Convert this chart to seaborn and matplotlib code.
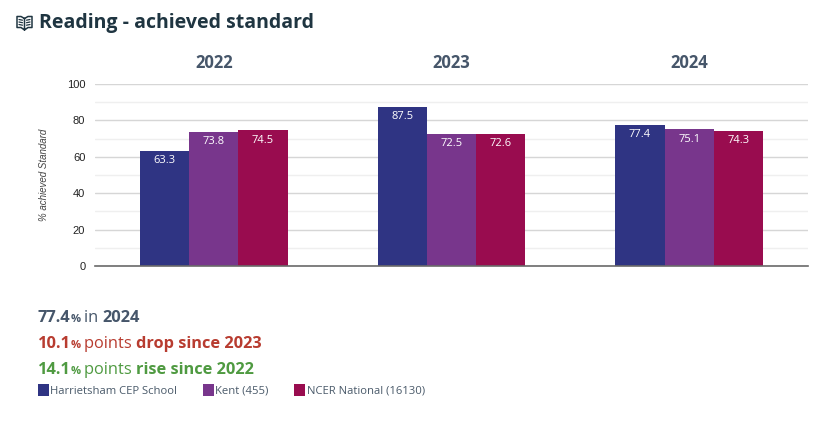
import matplotlib
matplotlib.use("Agg")
import matplotlib.pyplot as plt
import pandas as pd
import seaborn as sns

years = ["2022", "2023", "2024"]
school = [63.3, 87.5, 77.4]
kent = [73.8, 72.5, 75.1]
national = [74.5, 72.6, 74.3]
series_names = ["Harrietsham CEP School", "Kent (455)", "NCER National (16130)"]
colors = ["#2f3483", "#78368c", "#990c4f"]

W, H = 818, 422

sns.set_theme(style="white")
plt.rcParams["font.family"] = ["Open Sans", "DejaVu Sans"]

df = pd.DataFrame({
    "year": years * 3,
    "value": school + kent + national,
    "series": [s for s in series_names for _ in years],
})

fig = plt.figure(figsize=(W / 100, H / 100), dpi=100)
ax = fig.add_axes([95 / W, (H - 266) / H, 713 / W, 182 / H])

sns.barplot(data=df, x="year", y="value", hue="series", palette=colors,
            saturation=1, width=0.62, gap=0, linewidth=0, ax=ax, legend=True)

ax.set_xlim(-0.5, 2.5)
ax.set_ylim(0, 100)
ax.set_yticks(range(0, 101, 20))
ax.set_yticks(range(10, 100, 20), minor=True)
ax.grid(axis="y", which="major", color="#d6d6d6", lw=1)
ax.grid(axis="y", which="minor", color="#efefef", lw=1)
ax.set_axisbelow(True)
for side in ["top", "left", "right"]:
    ax.spines[side].set_visible(False)
ax.spines["bottom"].set_color("#6a6a6a")
ax.spines["bottom"].set_linewidth(1.2)

ax.xaxis.tick_top()
ax.tick_params(axis="x", length=0, pad=9, top=False, labelsize=12, labelcolor="#46566a")
for lab in ax.get_xticklabels():
    lab.set_fontweight("bold")
ax.tick_params(axis="y", which="both", length=0, pad=7, labelsize=8, labelcolor="#222222")
for lab in ax.get_yticklabels():
    lab.set_family("Liberation Sans")
ax.set_xlabel("")
ax.set_ylabel("% achieved Standard", family="Liberation Sans", style="italic",
              fontsize=7, color="#444444", labelpad=13)

for bars in ax.containers:
    ax.bar_label(bars, fmt="%.1f", label_type="edge", padding=-11,
                 color="white", fontsize=8)

# legend comes from the bars, just restyled
handles, labels = ax.get_legend_handles_labels()
ax.get_legend().remove()
fig.legend(handles, labels, ncol=3, loc="center left",
           bbox_to_anchor=(38 / W, 1 - 390.5 / H), frameon=False, fontsize=8.15,
           labelcolor="#4a5a6a", handlelength=0.95, handleheight=1.15,
           handletextpad=0.15, columnspacing=2.25, borderpad=0, borderaxespad=0)

fig.text(39 / W, 1 - 23 / H, "Reading - achieved standard", fontsize=14,
         fontweight="bold", color="#1f3541", va="center")


def text_row(y, x, runs, color):
    # runs of (text, size, weight) laid out one after the other
    r = fig.canvas.get_renderer()
    for txt, size, weight in runs:
        t = fig.text(x / W, 1 - y / H, txt, fontsize=size, fontweight=weight,
                     color=color, va="baseline")
        x = t.get_window_extent(r).x1


text_row(322.5, 38, [("77.4", 11.8, "bold"), ("% ", 8, "bold"), ("in ", 11.8, "normal"),
                     ("2024", 11.8, "bold")], "#46566a")
text_row(348.5, 38, [("10.1", 11.8, "bold"), ("% ", 8, "bold"), ("points ", 11.8, "normal"),
                     ("drop since 2023", 11.8, "bold")], "#b83c30")
text_row(374, 38, [("14.1", 11.8, "bold"), ("% ", 8, "bold"), ("points ", 11.8, "normal"),
                   ("rise since 2022", 11.8, "bold")], "#4f9a41")

# open book icon next to the title
icon = fig.add_axes([16 / W, 1 - 32 / H, 17 / W, 17 / H])
icon.set_xlim(0, 17)
icon.set_ylim(17, 0)
icon.axis("off")
c = "#1f3541"
icon.plot([8.5, 5, 1, 1, 5, 8.5, 12, 16, 16, 12, 8.5, 8.5],
          [3.5, 1.5, 1.5, 12.5, 12.5, 15, 12.5, 12.5, 1.5, 1.5, 3.5, 15], color=c, lw=1.1)
for yy in [4.5, 7, 9.5]:
    icon.plot([3, 6.5], [yy, yy + 0.7], color=c, lw=0.9)
    icon.plot([10.5, 14], [yy + 0.7, yy], color=c, lw=0.9)

fig.savefig("out.png", dpi=100)
